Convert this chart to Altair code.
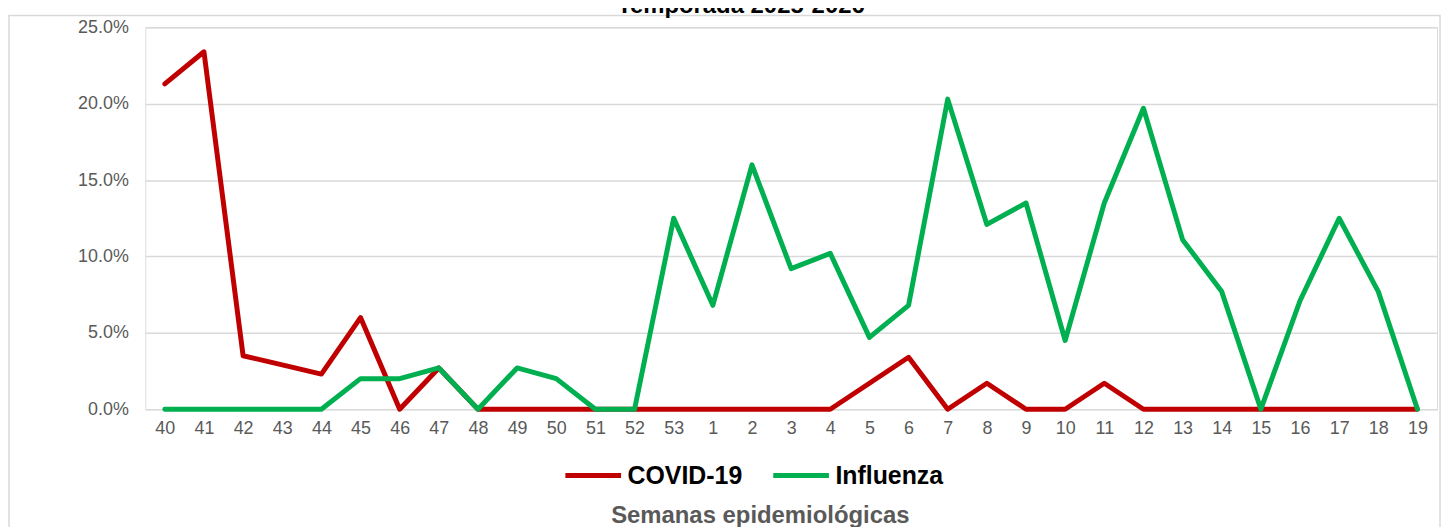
import altair as alt
import pandas as pd

weeks = ["40", "41", "42", "43", "44", "45", "46", "47", "48", "49", "50", "51", "52", "53",
         "1", "2", "3", "4", "5", "6", "7", "8", "9", "10", "11", "12", "13", "14", "15",
         "16", "17", "18", "19"]
covid = [21.3, 23.4, 3.5, 2.9, 2.3, 6.0, 0.0, 2.7, 0.0, 0.0, 0.0, 0.0, 0.0, 0.0,
         0.0, 0.0, 0.0, 0.0, 1.7, 3.4, 0.0, 1.7, 0.0, 0.0, 1.7, 0.0, 0.0, 0.0, 0.0,
         0.0, 0.0, 0.0, 0.0]
influenza = [0.0, 0.0, 0.0, 0.0, 0.0, 2.0, 2.0, 2.7, 0.0, 2.7, 2.0, 0.0, 0.0, 12.5,
             6.8, 16.0, 9.2, 10.2, 4.7, 6.8, 20.3, 12.1, 13.5, 4.5, 13.5, 19.7, 11.1, 7.7, 0.0,
             7.1, 12.5, 7.7, 0.0]
series_names = ["COVID-19", "Influenza"]
series_colors = ["#C00000", "#00B050"]
y_ticks = [0, 5, 10, 15, 20, 25]
title_text = "Temporada 2025-2026"
x_title = "Semanas epidemiológicas"

rows = []
for i, w in enumerate(weeks):
    rows.append({"semana": w, "serie": series_names[0], "valor": covid[i], "orden": 0})
    rows.append({"semana": w, "serie": series_names[1], "valor": influenza[i], "orden": 1})
df = pd.DataFrame(rows)

W, H = 1299, 384
FONT = "Liberation Sans"

lines = alt.Chart(df).mark_line(strokeWidth=5, strokeCap="round", strokeJoin="round").encode(
    x=alt.X("semana:N", sort=weeks,
            scale=alt.Scale(type="point", padding=0.5),
            axis=alt.Axis(title=x_title, labelAngle=0, ticks=False, domain=False, grid=False,
                          labelFontSize=18, labelColor="#595959", labelFont=FONT, labelPadding=10,
                          titleFont=FONT, titleFontSize=24, titleFontWeight="bold",
                          titleColor="#595959", titlePadding=67, titleX=618, titleAnchor="middle")),
    y=alt.Y("valor:Q", scale=alt.Scale(domain=[0, 25], nice=False),
            axis=alt.Axis(title=None, values=y_ticks, ticks=False, domain=False,
                          labelExpr="format(datum.value, '.1f') + '%'",
                          labelFontSize=18, labelColor="#595959", labelFont=FONT, labelPadding=17,
                          grid=True, gridColor="#d9d9d9", gridWidth=1.5)),
    color=alt.Color("serie:N", scale=alt.Scale(domain=series_names, range=series_colors),
                    legend=alt.Legend(title=None, orient="none", direction="horizontal",
                                      legendX=420, legendY=420, symbolType="stroke",
                                      symbolSize=3136, symbolStrokeWidth=5,
                                      labelFontSize=25, labelFontWeight="bold", labelColor="#000000",
                                      labelFont=FONT, labelOffset=4, columnPadding=20, padding=0)),
    order="orden:Q",
)

border = alt.Chart(pd.DataFrame({"k": [0]})).mark_rect(
    fillOpacity=0, stroke="#d9d9d9", strokeWidth=1.5
).encode(x=alt.value(-137), x2=alt.value(1302), y=alt.value(-12), y2=alt.value(520))

title = alt.Chart(pd.DataFrame({"t": [title_text]})).mark_text(
    fontSize=24, fontWeight="bold", font=FONT, color="#000000", baseline="alphabetic", align="center"
).encode(text="t:N", x=alt.value(599), y=alt.value(-14))

chart = alt.layer(border, lines, title).properties(
    width=W, height=H,
    autosize=alt.AutoSizeParams(type="none"),
    padding={"left": 138, "top": 18, "right": 5, "bottom": 117},
).configure_view(stroke=None).configure(background="white")

chart.save("out.html", embed_options={"renderer": "svg", "actions": False})
